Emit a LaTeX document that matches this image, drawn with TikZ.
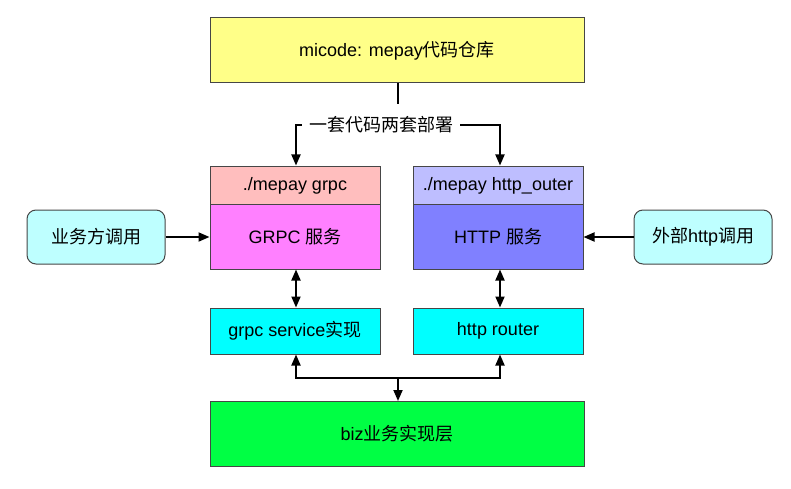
\documentclass[tikz,border=0pt]{standalone}
\usepackage{fontspec}
\setmainfont{Liberation Sans}
\newfontfamily\cjk{Noto Sans CJK SC}
\usetikzlibrary{arrows.meta,positioning,calc}
\definecolor{cyellow}{RGB}{255,255,136}
\definecolor{cpinkh}{RGB}{255,190,190}
\definecolor{cpinkb}{RGB}{255,128,255}
\definecolor{cblueh}{RGB}{190,190,255}
\definecolor{cblueb}{RGB}{128,128,255}
\definecolor{ccyan}{RGB}{0,255,255}
\definecolor{cgreen}{RGB}{0,255,68}
\definecolor{cside}{RGB}{190,255,255}
\definecolor{cborder}{RGB}{70,70,70}
\tikzset{
  box/.style={draw=cborder,line width=1pt,inner sep=0pt,font=\fontsize{18}{21}\selectfont,text=black},
  sidebox/.style={box,rounded corners=9pt,fill=cside,minimum width=138pt,minimum height=54pt},
  conn/.style={line width=1.8pt,draw=black},
  tip/.style={-{Triangle[length=11pt,width=9pt]}},
  dtip/.style={{Triangle[length=11pt,width=9pt]}-{Triangle[length=11pt,width=9pt]}},
}
\begin{document}
\begin{tikzpicture}[x=1pt,y=-1pt]
\useasboundingbox (0,0) rectangle (791,489);
\node[box,fill=cyellow,minimum width=374pt,minimum height=65pt] (top) at (397,50.5) {micode: mepay{\cjk 代码仓库}};
\node[box,fill=cpinkh,minimum width=170pt,minimum height=39pt] (gh) at (295,185.5) {./mepay grpc};
\node[box,fill=cpinkb,minimum width=170pt,minimum height=65pt] (gb) at (295,237) {GRPC {\cjk 服务}};
\node[box,fill=cblueh,minimum width=170pt,minimum height=39pt] (hh) at (498,185.5) {./mepay http\_outer};
\node[box,fill=cblueb,minimum width=170pt,minimum height=65pt] (hb) at (498,237) {HTTP {\cjk 服务}};
\node[box,fill=ccyan,minimum width=170pt,minimum height=46pt] (svc) at (295,331) {grpc service{\cjk 实现}};
\node[box,fill=ccyan,minimum width=170pt,minimum height=46pt] (rt) at (498,331) {http router};
\node[box,fill=cgreen,minimum width=374pt,minimum height=65pt] (biz) at (397,433.5) {biz{\cjk 业务实现层}};
\node[sidebox] (lc) at (96,237) {\cjk 业务方调用};
\node[sidebox] (rc) at (703,237) {{\cjk 外部}http{\cjk 调用}};
\node[font=\fontsize{18}{21}\selectfont,inner sep=0pt,minimum width=158pt,minimum height=20pt] (lbl) at (381,125) {\cjk 一套代码两套部署};
\coordinate (tb) at (398,104);
\coordinate (gtop) at (296,165.5);
\coordinate (htop) at (500,165.5);
\coordinate (j) at (398,378);
\draw[conn] (398,83) -- (tb);
\draw[conn,tip] (lbl.west) -| (gtop);
\draw[conn,tip] (lbl.east) -| (htop);
\draw[conn,dtip] (296,269.5) -- (296,307.5);
\draw[conn,dtip] (500,269.5) -- (500,307.5);
\draw[conn,dtip] (296,354.5) |- (j) -| (500,354.5);
\draw[conn,tip] (j) -- (398,401);
\draw[conn,tip] (lc.east) -- (gb.west);
\draw[conn,tip] (rc.west) -- (hb.east);
\end{tikzpicture}
\end{document}
